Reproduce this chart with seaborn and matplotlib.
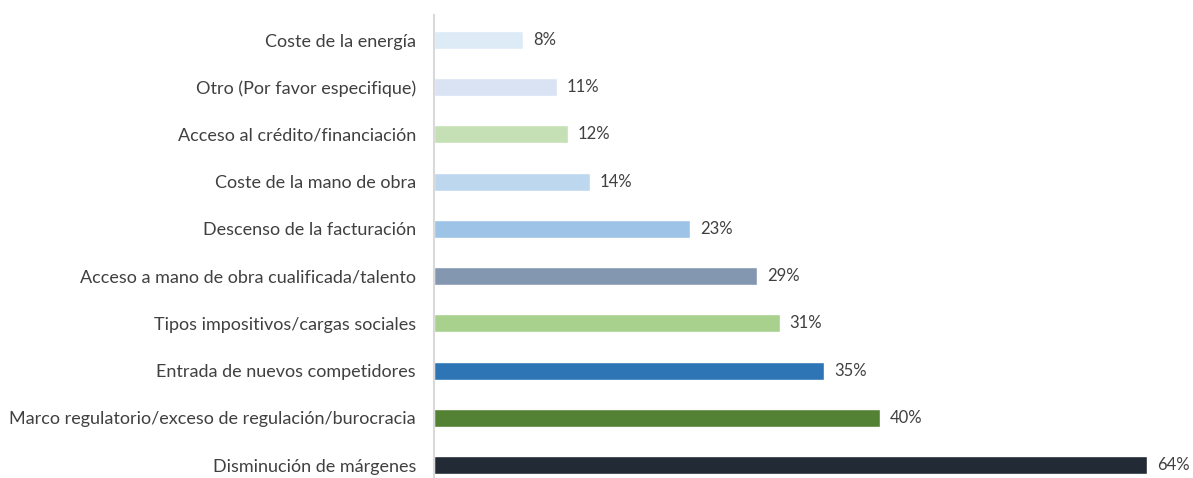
import pandas as pd
import matplotlib.pyplot as plt
import seaborn as sns

categories = ['Coste de la energía', 'Otro (Por favor especifique)', 'Acceso al crédito/financiación',
              'Coste de la mano de obra', 'Descenso de la facturación',
              'Acceso a mano de obra cualificada/talento', 'Tipos impositivos/cargas sociales',
              'Entrada de nuevos competidores', 'Marco regulatorio/exceso de regulación/burocracia',
              'Disminución de márgenes']
values = [8, 11, 12, 14, 23, 29, 31, 35, 40, 64]
colors = ['#DDEBF7', '#DAE3F3', '#C5E0B4', '#BDD7EE', '#9DC3E6',
          '#8497B0', '#A9D18E', '#2E75B6', '#548235', '#222A35']

df = pd.DataFrame({'cat': categories, 'val': values})

sns.set_style('white')
plt.rcParams['font.family'] = ['Lato', 'DejaVu Sans']

fig = plt.figure(figsize=(11.93, 4.78), dpi=100)
ax = fig.add_axes([434 / 1193, 0, 1 - 434 / 1193, 1 - 15 / 478])

sns.barplot(data=df, x='val', y='cat', hue='cat', palette=colors, legend=False,
            orient='h', width=0.38, ax=ax, saturation=1)

# percentage labels next to each bar
for i, v in enumerate(values):
    ax.text(v + 0.9, i, f'{v}%', va='center', ha='left', fontsize=12, color='#404040')

ax.set_xlim(0, 68.1)
ax.set_ylim(9.275, -0.53)
ax.set_xlabel('')
ax.set_ylabel('')
ax.set_xticks([])
ax.tick_params(axis='y', length=0, pad=13, labelsize=13, labelcolor='#404040')
for s in ['top', 'right', 'bottom']:
    ax.spines[s].set_visible(False)
ax.spines['left'].set_color('#D9D9D9')
ax.spines['left'].set_linewidth(1.5)

fig.savefig('out.png', dpi=100)
